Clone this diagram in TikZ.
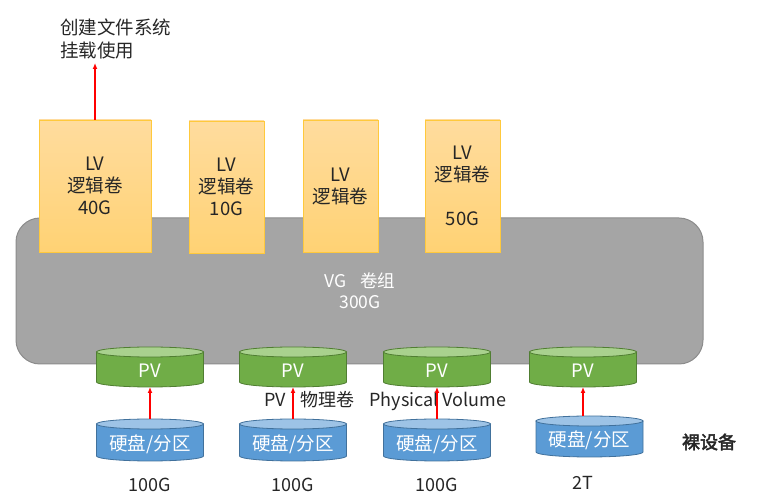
\documentclass[tikz,border=0pt]{standalone}
\usepackage{fontspec}
\setmainfont{Noto Sans CJK SC}
\newfontfamily\boldcjk{Noto Sans CJK SC}[FakeBold=2.5]
\usetikzlibrary{arrows.meta}
\definecolor{vgfill}{HTML}{A5A5A5}
\definecolor{vgline}{HTML}{8C8C8C}
\definecolor{lvtop}{HTML}{FFDC9E}
\definecolor{lvbot}{HTML}{FFD274}
\definecolor{lvline}{HTML}{FFC93C}
\definecolor{pvbody}{HTML}{70AD47}
\definecolor{pvtopc}{HTML}{A9D18E}
\definecolor{pvline}{HTML}{507E32}
\definecolor{hdbody}{HTML}{5B9BD5}
\definecolor{hdtopc}{HTML}{9DC3E6}
\definecolor{hdline}{HTML}{41719C}
\definecolor{txt}{HTML}{262626}
\definecolor{arrred}{HTML}{FF0000}
\tikzset{
  lvbox/.style={draw=lvline, line width=0.8pt, top color=lvtop, bottom color=lvbot,
    minimum height=132pt, inner sep=0pt, align=center, text=txt,
    font=\fontsize{18.5}{22}\selectfont},
  redarrow/.style={color=arrred, line width=1.3pt, -{Latex[length=6pt,width=5pt]}},
  lbl/.style={text=txt, font=\fontsize{18}{22}\selectfont, inner sep=0pt},
  cyltext/.style={text=white, font=\fontsize{18.5}{22}\selectfont, inner sep=0pt},
  pvbodyst/.style={fill=pvbody, draw=pvline, line width=0.8pt},
  pvtopst/.style={fill=pvtopc, draw=pvline, line width=0.8pt},
  hdbodyst/.style={fill=hdbody, draw=hdline, line width=0.8pt},
  hdtopst/.style={fill=hdtopc, draw=hdline, line width=0.8pt},
}
% #1 cx, #2 top ellipse centre y, #3 bottom ellipse centre y, #4 name, #5 style prefix
\newcommand\mycyl[5]{%
  \path[#5bodyst] (#1-53.5,#2) -- (#1-53.5,#3)
     arc[start angle=180,end angle=360,x radius=53.5,y radius=5] -- (#1+53.5,#2) -- cycle;
  \path[#5topst] (#1,#2) ellipse[x radius=53.5,y radius=5];
  \coordinate (#4top) at (#1,#2+5);
  \coordinate (#4bot) at (#1,#3-5);
}
\begin{document}
\begin{tikzpicture}[x=1pt,y=1pt]
\useasboundingbox (0,0) rectangle (764,501);
% VG
\node[draw=vgline, fill=vgfill, line width=1pt, rounded corners=24pt,
      minimum width=687pt, minimum height=146pt, inner sep=0pt] (vg) at (359.5,210) {};
\node[text=white, align=center, font=\fontsize{17.5}{21}\selectfont] (vgt) at (360,210) {VG\hspace{14pt}卷组\\300G};
% LV boxes
\node[lvbox, minimum width=112pt] (lv1) at (95,315) {LV\\逻辑卷\\40G};
\node[lvbox, minimum width=75pt] (lv2) at (226.5,314) {LV\\逻辑卷\\10G};
\node[lvbox, minimum width=75pt] (lv3) at (340.5,315) {LV\\逻辑卷};
\node[lvbox, minimum width=75pt] (lv4) at (462.5,315) {LV\\逻辑卷\\[22pt]50G};
% top text
\node[anchor=west, align=left, text=txt, font=\fontsize{18.5}{23}\selectfont, inner sep=0pt] (fs) at (60,462.5) {创建文件系统\\挂载使用};
\coordinate (fsend) at (95,438);
\draw[redarrow] (lv1.north -| fsend) -- (fsend);
% PV cylinders
\mycyl{150}{149}{119}{pv1}{pv}
\mycyl{293}{149}{119}{pv2}{pv}
\mycyl{437}{149}{119}{pv3}{pv}
\mycyl{583}{149}{119}{pv4}{pv}
\node[cyltext] (pv1t) at (150,130) {PV};
\node[cyltext] (pv2t) at (293,130) {PV};
\node[cyltext] (pv3t) at (437,130) {PV};
\node[cyltext] (pv4t) at (583,130) {PV};
% disks
\mycyl{150}{77}{45}{hd1}{hd}
\mycyl{293}{77}{45}{hd2}{hd}
\mycyl{437}{77}{45}{hd3}{hd}
\mycyl{589.5}{80}{49}{hd4}{hd}
\node[cyltext] (hd1t) at (150,57) {硬盘/分区};
\node[cyltext] (hd2t) at (293,57) {硬盘/分区};
\node[cyltext] (hd3t) at (437,57) {硬盘/分区};
\node[cyltext] (hd4t) at (589.5,61) {硬盘/分区};
% labels
\node[lbl, anchor=west] (pvl) at (264,101) {PV\hspace{15pt}物理卷};
\node[lbl] (pvv) at (438,100) {Physical Volume};
\node[lbl] (s1) at (150,16) {100G};
\node[lbl] (s2) at (293,16) {100G};
\node[lbl] (s3) at (437,16) {100G};
\node[lbl] (s4) at (583,18) {2T};
\node[text=txt, font=\boldcjk\fontsize{18}{22}\selectfont, inner sep=0pt] (raw) at (709,59) {裸设备};
% arrows
\draw[redarrow] (hd1top) -- (pv1bot);
\draw[redarrow] (hd2top) -- (pv2bot);
\draw[redarrow] (hd3top) -- (pv3bot);
\draw[redarrow] (pv4bot |- hd4top) -- (pv4bot);
\end{tikzpicture}
\end{document}
